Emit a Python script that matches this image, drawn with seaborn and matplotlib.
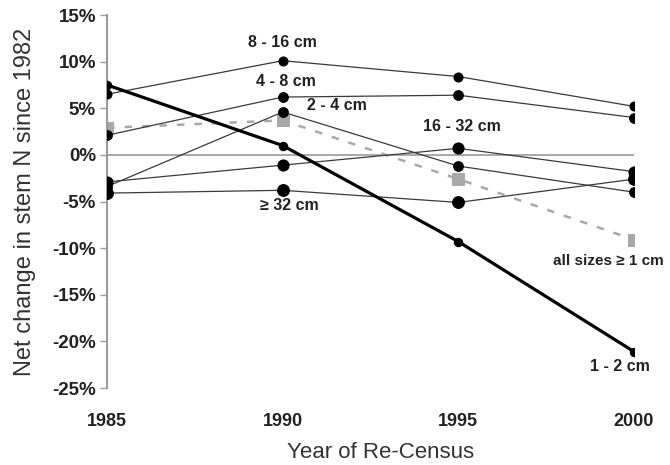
import matplotlib
matplotlib.use("Agg")
import matplotlib.pyplot as plt
import seaborn as sns
import pandas as pd
from matplotlib.ticker import FuncFormatter

sns.set_theme(style="white")
plt.rcParams['font.family'] = ['Liberation Sans', 'DejaVu Sans']

years = [1985, 1990, 1995, 2000]
s_1_2 = [7.5, 1.0, -9.3, -21.1]
s_2_4 = [-3.4, 4.6, -1.2, -4.0]
s_4_8 = [2.1, 6.2, 6.4, 4.0]
s_8_16 = [6.5, 10.1, 8.4, 5.2]
s_16_32 = [-2.9, -1.1, 0.7, -1.8]
s_32 = [-4.1, -3.8, -5.1, -2.6]
s_all = [2.9, 3.7, -2.6, -9.1]

yticks = [15, 10, 5, 0, -5, -10, -15, -20, -25]

fig = plt.figure(figsize=(6.7, 4.65), dpi=100)
ax = fig.add_axes([107/670, 1-388/465, (634-107)/670, (388-15)/465])

ax.axhline(0, color='#9a9a9a', lw=1.2, zorder=1)

thin = dict(color='#3a3a3a', lw=0.9, marker='o', markeredgecolor='black',
            markerfacecolor='black')
for vals, ms in [(s_8_16, 6.5), (s_4_8, 7), (s_2_4, 7), (s_16_32, 8), (s_32, 8.5)]:
    sns.lineplot(x=years, y=vals, ax=ax, markersize=ms, zorder=3, **thin)

sns.lineplot(x=years, y=s_all, ax=ax, color='#a8a8a8', lw=1.8, dashes=(3, 4),
             marker='s', markersize=8, markerfacecolor='#a8a8a8',
             markeredgecolor='#a8a8a8', zorder=2)
sns.lineplot(x=years, y=s_1_2, ax=ax, color='black', lw=2.3, marker='o',
             markersize=6, markerfacecolor='black', markeredgecolor='black', zorder=4)

lab = dict(fontsize=11.5, fontweight='bold', color='#222222', ha='center', va='center')
ax.text(1990.0, 12.1, '8 - 16 cm', **lab)
ax.text(1990.1, 7.9, '4 - 8 cm', **lab)
ax.text(1991.55, 5.3, '2 - 4 cm', **lab)
ax.text(1990.2, -5.4, '≥ 32 cm', **lab)
ax.text(1995.1, 3.0, '16 - 32 cm', **lab)
ax.text(1997.7, -11.4, 'all sizes ≥ 1 cm', fontsize=11, fontweight='bold',
        color='#222222', ha='left', va='center', clip_on=False)
ax.text(1999.6, -22.7, '1 - 2 cm', **lab)

ax.set_xlim(1985, 2000)
ax.set_ylim(-25, 15)
ax.set_xticks(years)
ax.set_xticklabels([str(y) for y in years], fontweight='bold', fontsize=13)
ax.set_yticks(yticks)
ax.yaxis.set_major_formatter(FuncFormatter(lambda v, p: f"{int(v)}%"))
for t in ax.get_yticklabels():
    t.set_fontweight('bold')
ax.tick_params(axis='y', labelsize=13.5, length=5, width=1, color='#9a9a9a',
               direction='out', left=True, pad=3, labelcolor='#222222')
ax.tick_params(axis='x', length=0, pad=18, labelcolor='#222222')

for s in ['top', 'right', 'bottom']:
    ax.spines[s].set_visible(False)
ax.spines['left'].set_color('#9a9a9a')
ax.spines['left'].set_linewidth(1.5)

ax.set_ylabel('Net change in stem N since 1982', fontsize=17, color='#333333')
ax.yaxis.set_label_coords(-0.135, 0.5)
ax.set_xlabel('Year of Re-Census', fontsize=16, color='#333333')
ax.xaxis.set_label_coords(0.52, -0.145)
ax.grid(False)

fig.savefig('out.png', dpi=100)
